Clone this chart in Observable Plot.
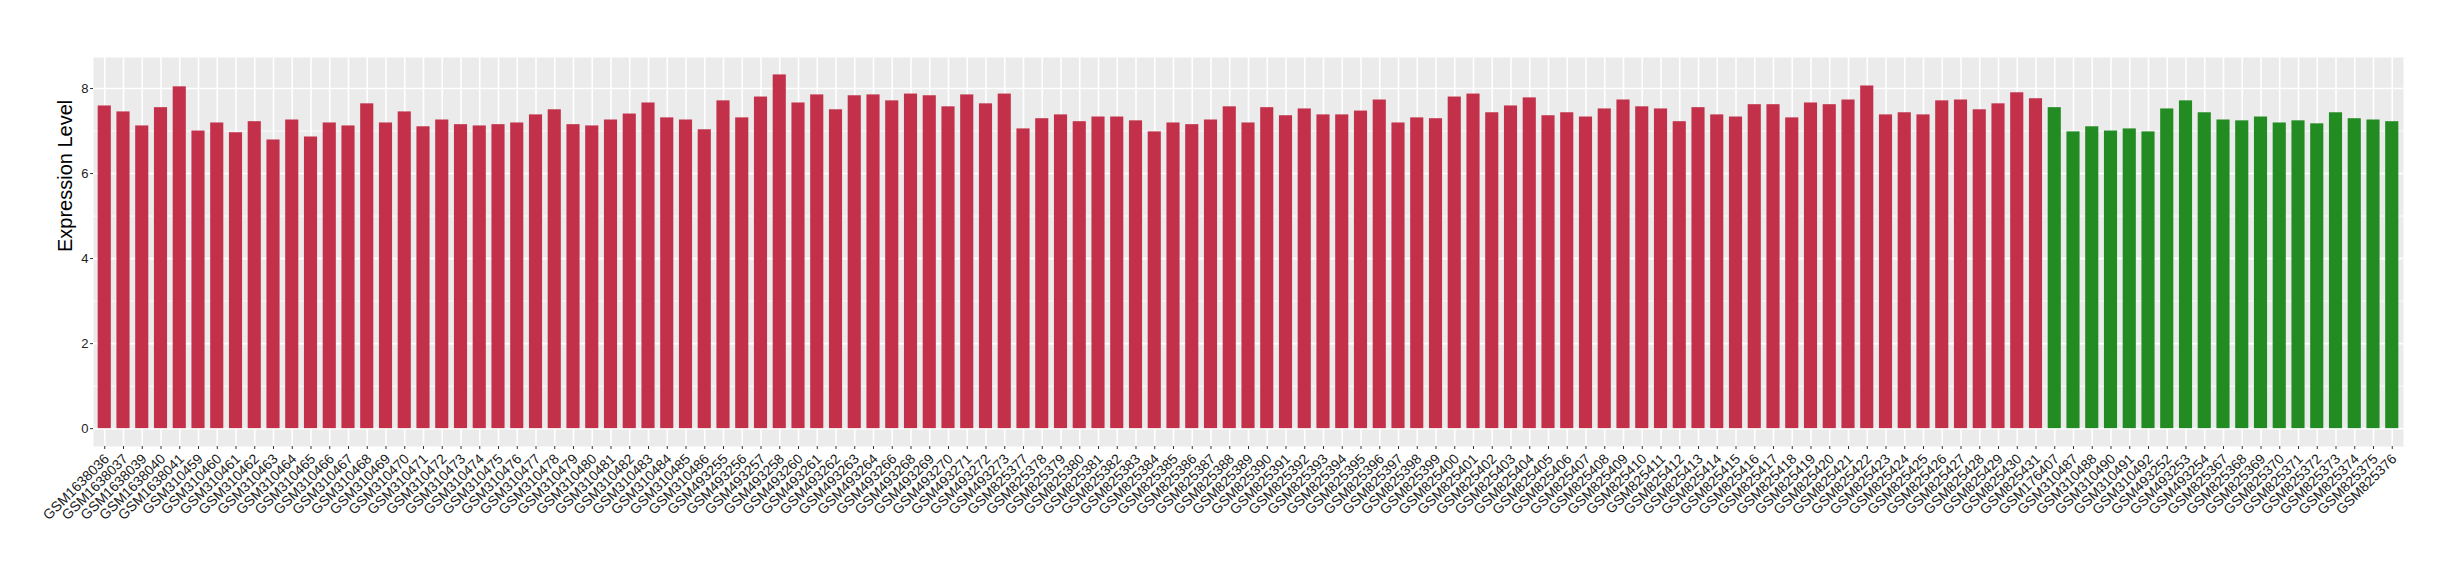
<!DOCTYPE html>
<html><head><meta charset="utf-8">
<script src="https://cdn.jsdelivr.net/npm/d3@7"></script>
<script src="https://cdn.jsdelivr.net/npm/@observablehq/plot@0.6"></script>
<style>body{margin:0;background:#fff;} svg{display:block;}</style>
</head><body><div id="chart"></div>
<script>
const redSamples = ["GSM1638036","GSM1638037","GSM1638039","GSM1638040","GSM1638041",
"GSM310459","GSM310460","GSM310461","GSM310462","GSM310463","GSM310464","GSM310465","GSM310466","GSM310467","GSM310468","GSM310469","GSM310470","GSM310471","GSM310472","GSM310473","GSM310474","GSM310475","GSM310476","GSM310477","GSM310478","GSM310479","GSM310480","GSM310481","GSM310482","GSM310483","GSM310484","GSM310485","GSM310486",
"GSM493255","GSM493256","GSM493257","GSM493258","GSM493260","GSM493261","GSM493262","GSM493263","GSM493264","GSM493266","GSM493268","GSM493269","GSM493270","GSM493271","GSM493272","GSM493273",
"GSM825377","GSM825378","GSM825379","GSM825380","GSM825381","GSM825382","GSM825383","GSM825384","GSM825385","GSM825386","GSM825387","GSM825388","GSM825389","GSM825390","GSM825391","GSM825392","GSM825393","GSM825394","GSM825395","GSM825396","GSM825397","GSM825398","GSM825399","GSM825400","GSM825401","GSM825402","GSM825403","GSM825404","GSM825405","GSM825406","GSM825407","GSM825408","GSM825409","GSM825410","GSM825411","GSM825412","GSM825413","GSM825414","GSM825415","GSM825416","GSM825417","GSM825418","GSM825419","GSM825420","GSM825421","GSM825422","GSM825423","GSM825424","GSM825425","GSM825426","GSM825427","GSM825428","GSM825429","GSM825430","GSM825431"];
const redValues = [7.59,7.45,7.12,7.55,8.04,7.00,7.19,6.96,7.22,6.79,7.26,6.86,7.19,7.12,7.64,7.19,7.45,7.10,7.26,7.15,7.12,7.15,7.19,7.38,7.50,
7.15,7.12,7.26,7.40,7.66,7.31,7.26,7.03,7.71,7.31,7.80,8.32,7.66,7.85,7.50,7.83,7.85,7.71,7.87,7.83,7.57,7.85,7.64,7.87,
7.05,7.29,7.38,7.22,7.33,7.33,7.24,6.98,7.19,7.15,7.26,7.57,7.19,7.55,7.36,7.52,7.38,7.38,7.47,7.73,7.19,7.31,7.29,7.80,7.87,
7.43,7.59,7.78,7.36,7.43,7.33,7.52,7.73,7.57,7.52,7.22,7.55,7.38,7.33,7.62,7.62,7.31,7.66,7.62,7.73,8.06,7.38,7.43,7.38,
7.71,7.73,7.50,7.64,7.90,7.76];
const greenSamples = ["GSM176407","GSM310487","GSM310488","GSM310490","GSM310491","GSM310492","GSM493252","GSM493253","GSM493254",
"GSM825367","GSM825368","GSM825369","GSM825370","GSM825371","GSM825372","GSM825373","GSM825374","GSM825375","GSM825376"];
const greenValues = [7.55,6.98,7.10,7.00,7.05,6.98,7.52,7.71,7.43,7.26,7.24,7.33,7.19,7.24,7.17,7.43,7.29,7.26,7.22];
const yMajorTicks = [0,2,4,6,8];
const yMinorTicks = [1,3,5,7];
const yTitle = ["Expression Level"];

const data = [
  ...redSamples.map((s,i)=>({sample:s, value:redValues[i], group:"groupA"})),
  ...greenSamples.map((s,i)=>({sample:s, value:greenValues[i], group:"groupB"}))
];

const chart = Plot.plot({
  width: 2460, height: 580,
  marginLeft: 93, marginRight: 57, marginTop: 57, marginBottom: 134,
  style: {fontFamily: "'Liberation Sans', Arial, Helvetica, sans-serif", background: "#fff"},
  x: {domain: data.map(d => d.sample), paddingInner: 0.3, paddingOuter: 0.25, label: null},
  y: {domain: [-0.42, 8.73], label: null},
  color: {type: "ordinal", domain: ["groupA","groupB"], range: ["#c33049","#228b22"]},
  marks: [
    Plot.frame({fill: "#ebebeb", stroke: "none"}),
    Plot.ruleY(yMinorTicks, {stroke: "white", strokeWidth: 0.8}),
    Plot.ruleY(yMajorTicks, {stroke: "white", strokeWidth: 1.6}),
    Plot.ruleX(data, {x: "sample", stroke: "white", strokeWidth: 1.6}),
    Plot.barY(data, {x: "sample", y: "value", fill: "group"}),
    Plot.axisY({ticks: yMajorTicks, tickSize: 3, tickPadding: 2, fontSize: 13, color: "#222", stroke: "#333", label: null}),
    Plot.axisX({tickSize: 0, tickPadding: 10, dx: 2, tickRotate: -45, fontSize: 14, color: "#1a1a1a", label: null}),
    Plot.axisX({tickSize: 3, text: null, label: null, stroke: "#333"}),
    Plot.text(yTitle, {frameAnchor: "left", rotate: -90, dx: -28, fontSize: 20, fill: "#000"})
  ]
});
document.getElementById("chart").appendChild(chart);
</script>
</body></html>
